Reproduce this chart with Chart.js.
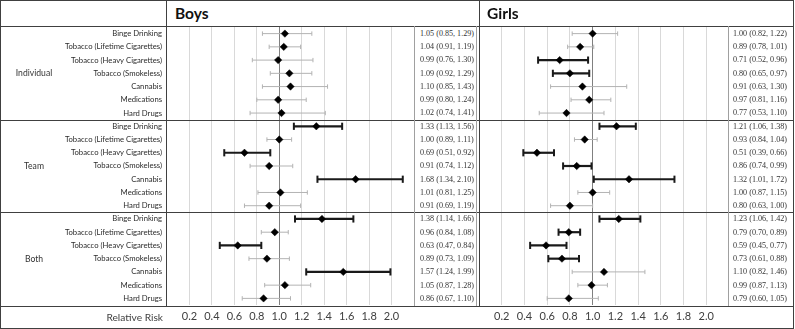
<!DOCTYPE html>
<html>
<head>
<meta charset="utf-8">
<script src="https://cdn.jsdelivr.net/npm/chart.js@4"></script>
<style>
  html, body { margin: 0; padding: 0; background: #fff; }
  #wrap { position: relative; width: 795px; height: 329px; overflow: hidden; background: #fff; }
  canvas { position: absolute; }
  .ln { position: absolute; background: #404040; }
  .lg { position: absolute; background: #a0a0a0; }
  .txt { position: absolute; white-space: nowrap; color: #333; }
  .hdr { font-family: Lato, sans-serif; font-weight: bold; font-size: 15.5px; color: #111; }
  .grp { font-family: Lato, sans-serif; font-size: 8.6px; text-align: center; width: 70px; }
  .ci { font-family: "Liberation Serif", serif; font-size: 8.1px; color: #333; }
  .foot { font-family: Lato, sans-serif; font-size: 10.2px; color: #404040; }
</style>
</head>
<body>
<div id="wrap">
  <canvas id="boys" width="414" height="302" style="left:0px;top:27px;"></canvas>
  <canvas id="girls" width="250" height="302" style="left:479px;top:27px;"></canvas>
</div>
<script>
// ---------- data ----------
const groups = ['Individual', 'Team', 'Both'];
const outcomes = ['Binge Drinking', 'Tobacco (Lifetime Cigarettes)', 'Tobacco (Heavy Cigarettes)',
  'Tobacco (Smokeless)', 'Cannabis', 'Medications', 'Hard Drugs'];
const xTicks = [0.2, 0.4, 0.6, 0.8, 1.0, 1.2, 1.4, 1.6, 1.8, 2.0];

const boysRR = [1.05, 1.04, 0.99, 1.09, 1.10, 0.99, 1.02, 1.33, 1.00, 0.69, 0.91, 1.68, 1.01, 0.91, 1.38, 0.96, 0.63, 0.89, 1.57, 1.05, 0.86];
const boysLo = [0.85, 0.91, 0.76, 0.92, 0.85, 0.80, 0.74, 1.13, 0.89, 0.51, 0.74, 1.34, 0.81, 0.69, 1.14, 0.84, 0.47, 0.73, 1.24, 0.87, 0.67];
const boysHi = [1.29, 1.19, 1.30, 1.29, 1.43, 1.24, 1.41, 1.56, 1.11, 0.92, 1.12, 2.10, 1.25, 1.19, 1.66, 1.08, 0.84, 1.09, 1.99, 1.28, 1.10];
const boysSig = [0, 0, 0, 0, 0, 0, 0, 1, 0, 1, 0, 1, 0, 0, 1, 0, 1, 0, 1, 0, 0];

const girlsRR = [1.00, 0.89, 0.71, 0.80, 0.91, 0.97, 0.77, 1.21, 0.93, 0.51, 0.86, 1.32, 1.00, 0.80, 1.23, 0.79, 0.59, 0.73, 1.10, 0.99, 0.79];
const girlsLo = [0.82, 0.78, 0.52, 0.65, 0.63, 0.81, 0.53, 1.06, 0.84, 0.39, 0.74, 1.01, 0.87, 0.63, 1.06, 0.70, 0.45, 0.61, 0.82, 0.87, 0.60];
const girlsHi = [1.22, 1.01, 0.96, 0.97, 1.30, 1.16, 1.10, 1.38, 1.04, 0.66, 0.99, 1.72, 1.15, 1.00, 1.42, 0.89, 0.77, 0.88, 1.46, 1.13, 1.05];
const girlsSig = [0, 0, 1, 1, 0, 0, 0, 1, 0, 1, 1, 1, 0, 0, 1, 1, 1, 1, 0, 0, 0];

// ---------- helpers ----------
const rowLabels = groups.flatMap(() => outcomes);
const nRows = rowLabels.length;

function buildDatasets(rr, lo, hi, sig) {
  const ds = [{
    data: rr.map((v, i) => ({ x: v, y: i })),
    pointStyle: 'rectRot', pointRadius: 3.7, pointBackgroundColor: '#000',
    pointBorderColor: '#000', pointBorderWidth: 0.5, showLine: false, order: 0
  }];
  rr.forEach((v, i) => {
    const s = sig[i] === 1;
    ds.push({
      data: [{ x: lo[i], y: i }, { x: hi[i], y: i }],
      showLine: true,
      borderColor: s ? '#1a1a1a' : '#b3b3b3',
      borderWidth: s ? 2.2 : 1,
      pointStyle: 'line', pointRotation: 90,
      pointRadius: s ? 3.6 : 2.2,
      pointBorderWidth: s ? 2 : 1,
      pointBorderColor: s ? '#1a1a1a' : '#b3b3b3',
      order: 1
    });
  });
  return ds;
}

function makeChart(id, rr, lo, hi, sig, showLabels) {
  return new Chart(document.getElementById(id), {
    type: 'scatter',
    data: { datasets: buildDatasets(rr, lo, hi, sig) },
    options: {
      responsive: false, animation: false,
      events: [],
      layout: { padding: 0, autoPadding: false },
      plugins: { legend: { display: false }, tooltip: { enabled: false } },
      scales: {
        x: {
          type: 'linear', min: 0, max: 2.2,
          afterBuildTicks: s => { s.ticks = xTicks.map(v => ({ value: v })); },
          afterFit: s => { s.height = 24; s.paddingLeft = 0; s.paddingRight = 0; },
          border: { display: false },
          grid: {
            drawTicks: false,
            color: c => (c.tick && Math.abs(c.tick.value - 1) < 1e-9) ? '#808080' : '#d9d9d9',
            lineWidth: 1
          },
          ticks: {
            padding: 5, color: '#404040',
            font: { family: 'Lato', size: 11 },
            callback: v => Number(v).toFixed(1),
            maxRotation: 0, autoSkip: false
          }
        },
        y: {
          type: 'linear', min: -0.5, max: nRows - 0.5, reverse: true,
          display: showLabels,
          afterBuildTicks: s => { s.ticks = rowLabels.map((_, i) => ({ value: i })); },
          afterFit: s => { s.width = showLabels ? 167 : 0; s.paddingTop = 0; s.paddingBottom = 0; },
          border: { display: false },
          grid: { display: false, drawTicks: false },
          ticks: {
            padding: 5, color: '#2b2b2b',
            font: { family: 'Lato', size: 7.7 },
            callback: v => rowLabels[v] || '',
            autoSkip: false
          }
        }
      }
    }
  });
}

const boysChart = makeChart('boys', boysRR, boysLo, boysHi, boysSig, true);
const girlsChart = makeChart('girls', girlsRR, girlsLo, girlsHi, girlsSig, false);

// ---------- table text & lines ----------
const wrap = document.getElementById('wrap');
function add(cls, css, text) {
  const d = document.createElement('div');
  d.className = cls;
  Object.assign(d.style, css);
  if (text !== undefined) d.textContent = text;
  wrap.appendChild(d);
  return d;
}
const ys = boysChart.scales.y;
const top0 = 27;
const rowPx = i => top0 + ys.getPixelForValue(i);
const pitch = Math.abs(ys.getPixelForValue(1) - ys.getPixelForValue(0));
const fmt = v => v.toFixed(2);

// CI text columns
rowLabels.forEach((_, i) => {
  const y = rowPx(i);
  add('txt ci', { left: '420px', top: (y - pitch / 2) + 'px', height: pitch + 'px', lineHeight: pitch + 'px' },
    `${fmt(boysRR[i])} (${fmt(boysLo[i])}, ${fmt(boysHi[i])})`);
  add('txt ci', { left: '733px', top: (y - pitch / 2) + 'px', height: pitch + 'px', lineHeight: pitch + 'px' },
    `${fmt(girlsRR[i])} (${fmt(girlsLo[i])}, ${fmt(girlsHi[i])})`);
});

// group labels
groups.forEach((g, k) => {
  const y = rowPx(k * outcomes.length + 3);
  add('txt grp', { left: '-1px', top: (y - 8) + 'px', lineHeight: '16px' }, g);
});

// headers
add('txt hdr', { left: '175px', top: '3px', lineHeight: '20px' }, 'Boys');
add('txt hdr', { left: '487px', top: '3px', lineHeight: '20px' }, 'Girls');

// footer label
add('txt foot', { left: '0px', width: '163px', textAlign: 'right', top: '309px', lineHeight: '16px' }, 'Relative Risk');

// lines
const sec1 = top0 + ys.getPixelForValue(6.5);
const sec2 = top0 + ys.getPixelForValue(13.5);
const footY = 306;
add('ln', { left: '0px', top: '0px', width: '794px', height: '1px' });
add('ln', { left: '0px', top: '328px', width: '794px', height: '1px' });
add('ln', { left: '0px', top: '0px', width: '1px', height: '329px' });
add('ln', { left: '793px', top: '0px', width: '1px', height: '329px' });
add('ln', { left: '0px', top: '26px', width: '794px', height: '1px' });
add('ln', { left: '0px', top: Math.round(sec1) + 'px', width: '794px', height: '1px' });
add('ln', { left: '0px', top: Math.round(sec2) + 'px', width: '794px', height: '1px' });
add('ln', { left: '0px', top: footY + 'px', width: '794px', height: '1px' });
add('ln', { left: '166px', top: '0px', width: '1px', height: footY + 'px' });
add('ln', { left: '479px', top: '0px', width: '1px', height: footY + 'px' });
add('lg', { left: '414px', top: '26px', width: '1px', height: (footY - 26) + 'px' });
add('lg', { left: '476px', top: '26px', width: '1px', height: (footY - 26) + 'px' });
add('lg', { left: '728px', top: '26px', width: '1px', height: (footY - 26) + 'px' });
</script>
</body>
</html>
